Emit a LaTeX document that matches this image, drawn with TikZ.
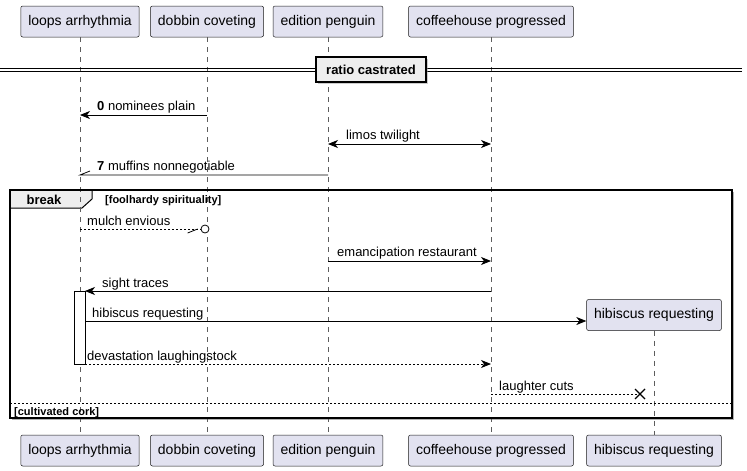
\documentclass[tikz,border=0pt]{standalone}
\usepackage{fontspec}
\setmainfont{Liberation Sans}
\usetikzlibrary{arrows.meta,shadows}

\definecolor{partfill}{HTML}{E2E2F0}
\definecolor{partline}{HTML}{181818}
\definecolor{groupfill}{HTML}{EEEEEE}

\begin{document}
\begin{tikzpicture}[x=1pt,y=-1pt,
    >={Stealth[length=10pt,width=8pt,inset=3pt]},
    msg/.style={anchor=base west,inner sep=0pt,font=\fontsize{13}{15}\selectfont},
    reply/.style={dash pattern=on 2pt off 2pt},
    lifeline/.style={draw=partline!70,dash pattern=on 5pt off 5pt,line width=0.5pt},
    guard/.style={anchor=base west,inner sep=0pt,font=\bfseries\fontsize{11}{13}\selectfont}]

      \useasboundingbox (0,0) rectangle (747,471);

      % break group, background
      \coordinate (brkNW) at (10,190);
      \coordinate (brkSE) at (732,418);
      \fill[black!30] (12,192) rectangle (734,420);
      \fill[white] (brkNW) rectangle (brkSE);
      \draw[fill=groupfill,line width=1pt] (brkNW) -- (92,190) -- (92,199) -- (82,208) -- (10,208) -- cycle;

      \begin{scope}[every node/.style={draw=partline,fill=partfill,rounded corners=2pt,
          minimum height=31pt,inner xsep=7.5pt,line width=0.5pt,font=\fontsize{14}{16}\selectfont}]
        \node (loops)     at (80,21.5)   {loops arrhythmia};
        \node (dobbin)    at (207,21.5)  {dobbin coveting};
        \node (edition)   at (328,21.5)  {edition penguin};
        \node (coffee)    at (491,21.5)  {coffeehouse progressed};
        \node (hibiscus)  at (654,315)   {hibiscus requesting};
        \node (loopsB)    at (80,450.5)  {loops arrhythmia};
        \node (dobbinB)   at (207,450.5) {dobbin coveting};
        \node (editionB)  at (328,450.5) {edition penguin};
        \node (coffeeB)   at (491,450.5) {coffeehouse progressed};
        \node (hibiscusB) at (654,450.5) {hibiscus requesting};
      \end{scope}

      \begin{scope}[every edge/.style={lifeline}]
        \path (loops)    edge (loopsB);
        \path (dobbin)   edge (dobbinB);
        \path (edition)  edge (editionB);
        \path (coffee)   edge (coffeeB);
        \path (hibiscus) edge (hibiscusB);
      \end{scope}

      % divider
      \coordinate (divL) at (0,69.5);
      \coordinate (divR) at (742,69.5);
      \draw[line width=0.8pt] ([yshift=1.5pt]divL) -- ([yshift=1.5pt]divR)
                              ([yshift=-1.5pt]divL) -- ([yshift=-1.5pt]divR);
      \node[draw,line width=1.5pt,fill=groupfill,minimum width=110pt,minimum height=25pt,
        drop shadow={shadow xshift=2pt,shadow yshift=-2pt,fill=black!40},
        font=\bfseries\fontsize{13}{15}\selectfont] (ratio) at (371,69.5) {ratio castrated};

      % break group, outline and guards
      \draw[line width=1.5pt] (brkNW) rectangle (brkSE);
      \node[font=\bfseries\fontsize{13}{15}\selectfont,inner sep=0pt] (brk) at (44,199.5) {break};
      \node[guard] (brkG) at (105,203) {[foolhardy spirituality]};
      \coordinate (elseL) at (10,403);
      \coordinate (elseR) at (732,403);
      \draw[reply] (elseL) -- (elseR);
      \node[guard] (elseG) at (14,415) {[cultivated cork]};

      % activation
      \node[draw,fill=white,line width=0.5pt,minimum width=11pt,minimum height=73pt,inner sep=0pt] (act) at (79.5,327.5) {};

      % messages
      \coordinate (nomS) at (207,115);  \coordinate (nomE) at (80,115);
      \coordinate (limS) at (328,144);  \coordinate (limE) at (491,144);
      \coordinate (mufS) at (328,175);  \coordinate (mufE) at (80,175);
      \coordinate (mulS) at (80,229);
      \coordinate (emaS) at (328,261);  \coordinate (emaE) at (491,261);
      \coordinate (sigS) at (491,291);  \coordinate (sigE) at (85,291);
      \coordinate (hibS) at (85,321);
      \coordinate (devS) at (85,364);   \coordinate (devE) at (491,364);
      \coordinate (lauS) at (491,394);  \coordinate (lauE) at (640,394);

      \node[circle,draw,line width=0.8pt,fill=white,minimum size=8pt,inner sep=0pt] (mulO) at (205,229) {};

      \begin{scope}[line width=0.8pt]
        \draw[->] (nomS) -- (nomE);
        \draw[<->] (limS) -- (limE);
        \draw (mufS) -- (mufE) -- ++(10,-4);
        \draw[reply] (mulS) -- (mulO);
        \draw ([xshift=-3pt]mulO.west) -- ++(-10,4);
        \draw[->] (emaS) -- (emaE);
        \draw[->] (sigS) -- (sigE);
        \draw[->] (hibS) -- (hibS -| hibiscus.west);
        \draw[reply,->] (devS) -- (devE);
        \draw[reply] (lauS) -- (lauE);
        \draw[line width=1.2pt] (lauE) ++(-5,-5) -- ++(10,10) ++(0,-10) -- ++(-10,10);
      \end{scope}

      \node[msg] (nomL) at (97,110.5) {\textbf{0} nominees plain};
      \node[msg] (limL) at (346,139.5) {limos twilight};
      \node[msg] (mufL) at (97,170.5) {\textbf{7} muffins nonnegotiable};
      \node[msg] (mulL) at (87,225) {mulch envious};
      \node[msg] (emaL) at (337,256.5) {emancipation restaurant};
      \node[msg] (sigL) at (102,287) {sight traces};
      \node[msg] (hibL) at (92,317) {hibiscus requesting};
      \node[msg] (devL) at (87,360) {devastation laughingstock};
      \node[msg] (lauL) at (499,390) {laughter cuts};

    \end{tikzpicture}
\end{document}
